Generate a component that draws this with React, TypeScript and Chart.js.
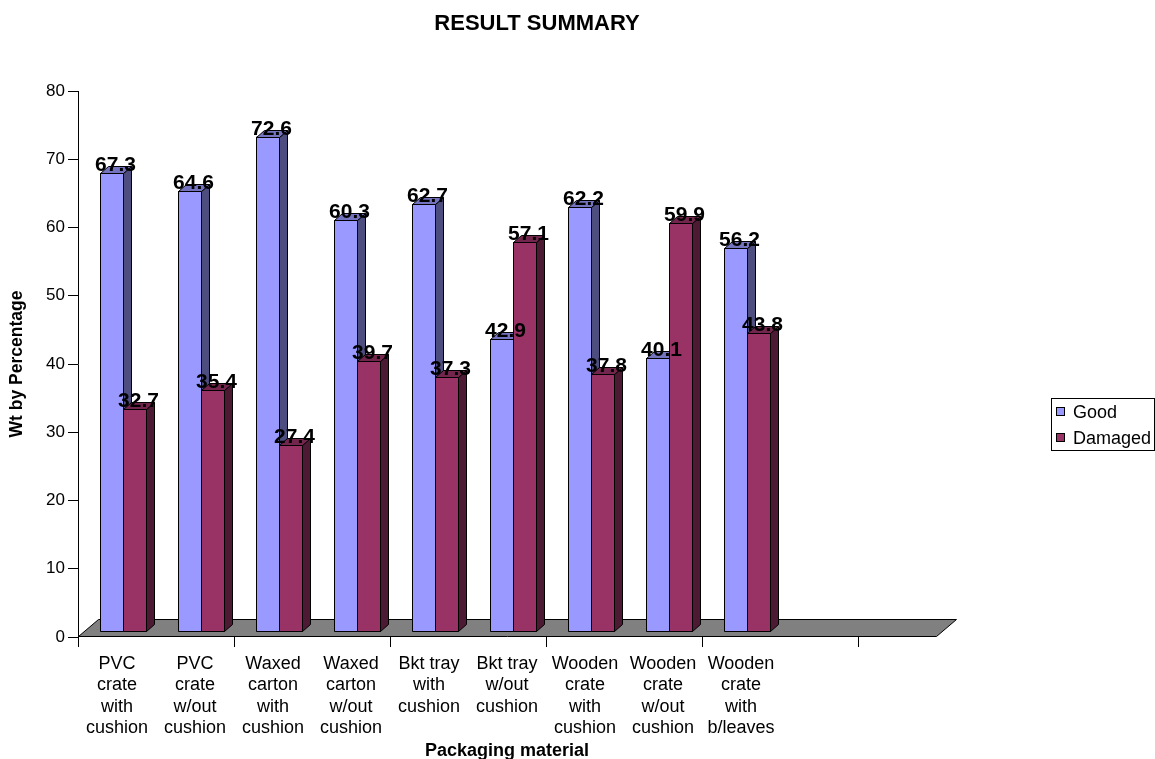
import { useEffect, useRef } from "react";
import { Chart, registerables } from "chart.js";

Chart.register(...registerables);

// Packaging types (multi-line axis labels)
const categories: string[][] = [
  ["PVC", "crate", "with", "cushion"],
  ["PVC", "crate", "w/out", "cushion"],
  ["Waxed", "carton", "with", "cushion"],
  ["Waxed", "carton", "w/out", "cushion"],
  ["Bkt tray", "with", "cushion"],
  ["Bkt tray", "w/out", "cushion"],
  ["Wooden", "crate", "with", "cushion"],
  ["Wooden", "crate", "w/out", "cushion"],
  ["Wooden", "crate", "with", "b/leaves"],
];
// two unused slots at the end of the category axis
const spareSlots: string[] = ["", ""];

const seriesNames = ["Good", "Damaged"];
const good = [67.3, 64.6, 72.6, 60.3, 62.7, 42.9, 62.2, 40.1, 56.2];
const damaged = [32.7, 35.4, 27.4, 39.7, 37.3, 57.1, 37.8, 59.9, 43.8];

const yMin = 0;
const yMax = 80;
const yStep = 10;

const FONT = "'Liberation Sans', Arial, Helvetica, sans-serif";

// shading for the three visible faces of each column
const faces = [
  { front: "#9999FF", side: "#4D4D80", top: "#7373BF" },
  { front: "#993366", side: "#4D1A33", top: "#73264D" },
];

// pseudo-3D geometry
const FLOOR_DX = 20;
const FLOOR_DY = -17;
const BAR_SHIFT_X = 6;
const BAR_SHIFT_Y = -5;
const BAR_DX = 8;
const BAR_DY = -7;

function poly(ctx: CanvasRenderingContext2D, pts: number[][], fill: string) {
  ctx.beginPath();
  pts.forEach(([px, py], i) => {
    if (i === 0) ctx.moveTo(px + 0.5, py + 0.5);
    else ctx.lineTo(px + 0.5, py + 0.5);
  });
  ctx.closePath();
  ctx.fillStyle = fill;
  ctx.fill();
  ctx.strokeStyle = "#000";
  ctx.lineWidth = 1;
  ctx.stroke();
}

const columns3d = {
  id: "columns3d",
  beforeDatasetsDraw(chart: any) {
    const { ctx, chartArea } = chart;
    const { left, right, bottom } = chartArea;
    const b = bottom - 1;
    ctx.save();
    poly(
      ctx,
      [
        [left, b],
        [right, b],
        [right + FLOOR_DX, b + FLOOR_DY],
        [left + FLOOR_DX, b + FLOOR_DY],
      ],
      "#808080"
    );
    ctx.restore();
    ctx.save();
    ctx.translate(BAR_SHIFT_X, BAR_SHIFT_Y);
  },
  afterDatasetsDraw(chart: any) {
    const ctx: CanvasRenderingContext2D = chart.ctx;
    const boxes: { x: number; y: number; v: number }[] = [];
    chart.data.datasets.forEach((ds: any, i: number) => {
      const meta = chart.getDatasetMeta(i);
      const f = faces[i];
      meta.data.forEach((bar: any, j: number) => {
        const { x, y, base, width } = bar.getProps(["x", "y", "base", "width"], true);
        const l = Math.round(x - width / 2);
        const r = Math.round(x + width / 2);
        const t = Math.round(y);
        const b = Math.round(base) - 1;
        poly(ctx, [[l, t], [r, t], [r, b], [l, b]], f.front);
        poly(ctx, [[r, t], [r + BAR_DX, t + BAR_DY], [r + BAR_DX, b + BAR_DY], [r, b]], f.side);
        poly(ctx, [[l, t], [l + BAR_DX, t + BAR_DY], [r + BAR_DX, t + BAR_DY], [r, t]], f.top);
        boxes.push({ x: (l + r + BAR_DX) / 2, y: t, v: ds.data[j] });
      });
    });
    ctx.fillStyle = "#000";
    ctx.font = `bold 21px ${FONT}`;
    ctx.textAlign = "center";
    ctx.textBaseline = "alphabetic";
    boxes.forEach((bx) => ctx.fillText(bx.v.toFixed(1), bx.x, bx.y - 2));
    ctx.restore();
  },
  afterDraw(chart: any) {
    const { ctx, chartArea, scales } = chart;
    const xs = scales.x;
    ctx.save();
    // category axis tick marks, one every two slots
    ctx.strokeStyle = "#000";
    ctx.lineWidth = 1;
    const slots = chart.data.labels.length;
    for (let k = 0; k < slots; k += 2) {
      const px = Math.round(xs.getPixelForValue(k - 0.5));
      ctx.beginPath();
      ctx.moveTo(px + 0.5, chartArea.bottom - 1);
      ctx.lineTo(px + 0.5, chartArea.bottom + 10);
      ctx.stroke();
    }

    // chart title
    ctx.fillStyle = "#000";
    ctx.font = `bold 22px ${FONT}`;
    ctx.textAlign = "center";
    ctx.textBaseline = "middle";
    ctx.fillText("RESULT SUMMARY", 537, 24);

    // legend
    const lx = 1051;
    const ly = 398;
    ctx.strokeRect(lx + 0.5, ly + 0.5, 103, 52);
    ctx.font = `18px ${FONT}`;
    ctx.textAlign = "left";
    chart.data.datasets.forEach((ds: any, i: number) => {
      const cy = ly + 14 + i * 26;
      ctx.fillStyle = faces[i].front;
      ctx.fillRect(lx + 5, cy - 4, 8, 8);
      ctx.strokeStyle = "#000";
      ctx.strokeRect(lx + 5.5, cy - 4.5, 8, 8);
      ctx.fillStyle = "#000";
      ctx.fillText(ds.label, lx + 22, cy + 1);
    });
    ctx.restore();
  },
};

export default function App() {
  const ref = useRef<HTMLCanvasElement | null>(null);

  useEffect(() => {
    if (!ref.current) return;
    const chart = new Chart(ref.current, {
      type: "bar",
      data: {
        labels: [...categories, ...spareSlots],
        datasets: [
          { label: seriesNames[0], data: good, backgroundColor: faces[0].front, borderColor: "#000", borderWidth: 1 },
          { label: seriesNames[1], data: damaged, backgroundColor: faces[1].front, borderColor: "#000", borderWidth: 1 },
        ],
      },
      options: {
        responsive: false,
        animation: false,
        events: [],
        layout: { padding: { top: 91, right: 219, bottom: 0, left: 0 } },
        datasets: { bar: { categoryPercentage: 46 / 78, barPercentage: 1 } },
        plugins: {
          legend: { display: false },
          title: { display: false },
          tooltip: { enabled: false },
        },
        scales: {
          x: {
            grid: { display: false },
            border: { display: false },
            ticks: {
              color: "#000",
              font: { family: FONT, size: 18, lineHeight: 1.19 },
              padding: 8,
              autoSkip: false,
              maxRotation: 0,
              minRotation: 0,
            },
            title: {
              display: true,
              text: "Packaging material",
              color: "#000",
              font: { family: FONT, size: 18, weight: "bold", lineHeight: 1 },
              padding: { top: 0, bottom: -1 },
            },
            afterFit: (s: any) => {
              s.height = 122;
            },
          },
          y: {
            min: yMin,
            max: yMax,
            ticks: {
              stepSize: yStep,
              color: "#000",
              font: { family: FONT, size: 17 },
              padding: 3,
            },
            grid: {
              display: true,
              drawOnChartArea: false,
              drawTicks: true,
              tickLength: 10,
              color: "#000",
              lineWidth: 1,
            },
            border: { display: true, color: "#000", width: 1 },
            title: {
              display: true,
              text: "Wt by Percentage",
              color: "#000",
              font: { family: FONT, size: 17.5, weight: "bold", lineHeight: 1 },
              padding: { top: 8.5, bottom: 0 },
            },
            afterFit: (s: any) => {
              s.width = 78;
            },
          },
        },
      },
      plugins: [columns3d],
    } as any);
    return () => chart.destroy();
  }, []);

  return (
    <div style={{ position: "absolute", left: 0, top: 0, width: 1155, height: 759, background: "#fff" }}>
      <canvas ref={ref} width={1155} height={759} />
    </div>
  );
}
